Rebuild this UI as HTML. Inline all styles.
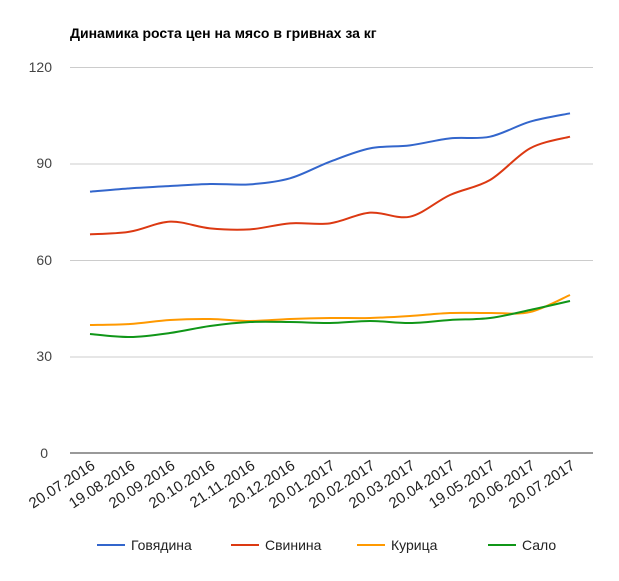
<!DOCTYPE html>
<html><head><meta charset="utf-8"><style>
body{margin:0;background:#fff;}
svg{display:block;font-family:"Liberation Sans",Arial,sans-serif;}
</style></head><body>
<svg id="s" width="619" height="581" xmlns="http://www.w3.org/2000/svg">
<text x="70" y="38" font-size="14" font-weight="bold" fill="#000">Динамика роста цен на мясо в гривнах за кг</text>
<g stroke="#cccccc" stroke-width="1">
<line x1="70" x2="593" y1="67.5" y2="67.5"/>
<line x1="70" x2="593" y1="164" y2="164"/>
<line x1="70" x2="593" y1="260.5" y2="260.5"/>
<line x1="70" x2="593" y1="357" y2="357"/>
</g>
<line x1="70" x2="593" y1="453" y2="453" stroke="#333" stroke-width="1"/>
<g font-size="14" fill="#444" text-anchor="end">
<text x="52" y="72">120</text>
<text x="52" y="168">90</text>
<text x="52" y="265">60</text>
<text x="52" y="361">30</text>
<text x="48" y="458">0</text>
</g>
<g id="xl" font-size="15" fill="#222" text-anchor="end"></g>
<g id="lines" fill="none" stroke-width="2"></g>
<g font-size="14" fill="#222">
<line x1="97" x2="125" y1="545" y2="545" stroke="#3366cc" stroke-width="2"/>
<text x="131" y="550">Говядина</text>
<line x1="231" x2="259" y1="545" y2="545" stroke="#dc3912" stroke-width="2"/>
<text x="265" y="550">Свинина</text>
<line x1="357" x2="385" y1="545" y2="545" stroke="#ff9900" stroke-width="2"/>
<text x="391" y="550">Курица</text>
<line x1="488" x2="516" y1="545" y2="545" stroke="#109618" stroke-width="2"/>
<text x="522" y="550">Сало</text>
</g>
</svg>
<script>
var dates=["20.07.2016","19.08.2016","20.09.2016","20.10.2016","21.11.2016","20.12.2016","20.01.2017","20.02.2017","20.03.2017","20.04.2017","19.05.2017","20.06.2017","20.07.2017"];
var NS="http://www.w3.org/2000/svg";
var xl=document.getElementById("xl");
dates.forEach(function(d,i){var x=90+40*i;var t=document.createElementNS(NS,"text");
t.setAttribute("transform","translate("+(x+6)+",468) rotate(-33)");t.textContent=d;xl.appendChild(t);});
function py(a){return a.map(function(v){return 60+v/3;});}
var series=[
["#ff9900",[325,324,320,319,321,319,318,318,316,313,313,312,295]],
["#109618",[334,337,333,326,322,322,323,321,323,320,318,310,301]],
["#dc3912",py([523,515,485,505,508,490,490,458,470,405,360,265,230])],
["#3366cc",py([395,385,378,372,373,355,305,265,256,235,230,185,160])]
];
var g=document.getElementById("lines");
series.forEach(function(s){var y=s[1];var p=y.map(function(v,i){return [90+40*i,v];});
var d="M"+p[0][0]+","+p[0][1];
for(var i=0;i<p.length-1;i++){var p0=p[i-1]||p[i],p1=p[i],p2=p[i+1],p3=p[i+2]||p2;
var c1=[p1[0]+(p2[0]-p0[0])/6,p1[1]+(p2[1]-p0[1])/6],c2=[p2[0]-(p3[0]-p1[0])/6,p2[1]-(p3[1]-p1[1])/6];
d+=" C"+c1[0]+","+c1[1]+" "+c2[0]+","+c2[1]+" "+p2[0]+","+p2[1];}
var el=document.createElementNS(NS,"path");el.setAttribute("d",d);el.setAttribute("stroke",s[0]);g.appendChild(el);});
</script>
</body></html>
